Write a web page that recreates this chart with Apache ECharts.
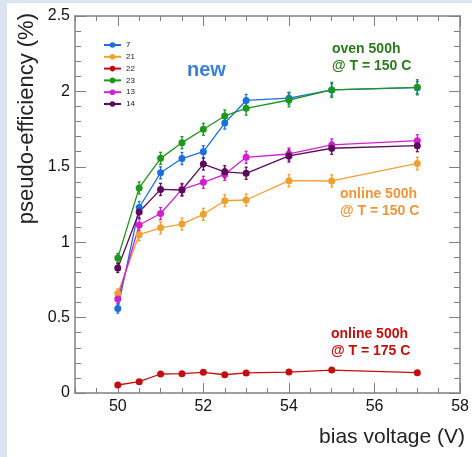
<!DOCTYPE html>
<html>
<head>
<meta charset="utf-8">
<script src="https://cdn.jsdelivr.net/npm/echarts@6/dist/echarts.min.js"></script>
<style>
html,body{margin:0;padding:0;background:#fff;}
#chart{width:472px;height:457px;}
</style>
</head>
<body>
<div id="chart"></div>
<script>
// bias voltage (V)
const voltages = [50, 50.5, 51, 51.5, 52, 52.5, 53, 54, 55, 57];
// pseudo-efficiency (%) per sample
const eff7  = [0.56, 1.23, 1.46, 1.555, 1.60, 1.79, 1.94, 1.955, 2.01, 2.025];
const eff21 = [0.66, 1.05, 1.095, 1.12, 1.185, 1.275, 1.28, 1.408, 1.406, 1.522];
const eff22 = [0.053, 0.075, 0.126, 0.128, 0.137, 0.121, 0.133, 0.139, 0.152, 0.135];
const eff23 = [0.895, 1.36, 1.556, 1.66, 1.749, 1.837, 1.888, 1.943, 2.01, 2.027];
const eff13 = [0.623, 1.114, 1.19, 1.35, 1.397, 1.45, 1.563, 1.585, 1.645, 1.673];
const eff14 = [0.829, 1.20, 1.35, 1.346, 1.518, 1.467, 1.457, 1.572, 1.623, 1.64];
// errors
const err7  = [0.03, 0.04, 0.04, 0.04, 0.04, 0.04, 0.04, 0.04, 0.04, 0.04];
const err21 = [0.03, 0.04, 0.04, 0.04, 0.04, 0.04, 0.04, 0.04, 0.04, 0.042];
const err22 = [0, 0, 0, 0, 0, 0, 0, 0, 0, 0];
const err23 = [0.03, 0.04, 0.04, 0.04, 0.04, 0.04, 0.045, 0.045, 0.05, 0.05];
const err13 = [0.03, 0.04, 0.04, 0.04, 0.04, 0.04, 0.04, 0.04, 0.04, 0.04];
const err14 = [0.03, 0.04, 0.04, 0.04, 0.04, 0.04, 0.04, 0.04, 0.04, 0.04];
const seriesNames = ['7', '21', '22', '23', '13', '14'];
const xMajorTicks = [50, 52, 54, 56, 58];

const values = [eff7, eff21, eff22, eff23, eff13, eff14];
const errors = [err7, err21, err22, err23, err13, err14];
const colors = ['#1e6fdc', '#f0a030', '#c40e0e', '#1f961e', '#d21fd2', '#5c0b5c'];

const AX = '#808080';
const FONT = '"Liberation Sans", Arial, Helvetica, sans-serif';

const chart = echarts.init(document.getElementById('chart'));

const series = [];
values.forEach((vals, i) => {
  series.push({
    name: seriesNames[i] + '_err',
    type: 'custom',
    xAxisIndex: 0, yAxisIndex: 0,
    silent: true,
    data: voltages.map((v, j) => [v, vals[j], errors[i][j]]),
    encode: { x: 0, y: 1 },
    renderItem: function (params, api) {
      const x = api.value(0), y = api.value(1), e = api.value(2);
      if (!e) return null;
      const p1 = api.coord([x, y - e]);
      const p2 = api.coord([x, y + e]);
      const st = { stroke: colors[i], lineWidth: 1.3 };
      return {
        type: 'group',
        children: [
          { type: 'line', shape: { x1: p1[0], y1: p1[1], x2: p2[0], y2: p2[1] }, style: st },
          { type: 'line', shape: { x1: p1[0] - 1.5, y1: p1[1], x2: p1[0] + 1.5, y2: p1[1] }, style: st },
          { type: 'line', shape: { x1: p2[0] - 1.5, y1: p2[1], x2: p2[0] + 1.5, y2: p2[1] }, style: st }
        ]
      };
    },
    z: 2
  });
});
values.forEach((vals, i) => {
  series.push({
    name: seriesNames[i],
    type: 'line',
    xAxisIndex: 0, yAxisIndex: 0,
    data: voltages.map((v, j) => [v, vals[j]]),
    symbol: 'circle',
    symbolSize: 7,
    showSymbol: true,
    lineStyle: { color: colors[i], width: 1.3 },
    itemStyle: { color: colors[i] },
    emphasis: { disabled: true },
    z: 3
  });
});

const tickLabelStyle = { color: '#111', fontSize: 16, fontFamily: FONT };

const option = {
  animation: false,
  backgroundColor: '#ffffff',
  textStyle: { fontFamily: FONT },
  grid: { left: 75, right: 7, top: 16, bottom: 64, containLabel: false },
  legend: {
    data: seriesNames,
    orient: 'vertical',
    left: 103,
    top: 41,
    padding: 0,
    itemWidth: 17,
    itemHeight: 7,
    itemGap: 3.8,
    textStyle: { fontSize: 8, color: '#222', fontFamily: FONT },
    selectedMode: false
  },
  xAxis: [
    {
      type: 'value', min: 49, max: 58, position: 'bottom',
      axisLine: { show: true, lineStyle: { color: AX, width: 1.5 } },
      axisTick: { show: true, inside: true, length: 10, customValues: xMajorTicks, lineStyle: { color: AX, width: 1 } },
      axisLabel: Object.assign({ margin: 6, customValues: xMajorTicks }, tickLabelStyle),
      splitLine: { show: false }
    },
    {
      type: 'value', min: 49, max: 58, interval: 0.5, position: 'bottom',
      axisLine: { show: false },
      axisTick: { show: true, inside: true, length: 5, lineStyle: { color: AX, width: 1 } },
      axisLabel: { show: false },
      splitLine: { show: false }
    },
    {
      type: 'value', min: 49, max: 58, position: 'top',
      axisLine: { show: true, lineStyle: { color: AX, width: 1.5 } },
      axisTick: { show: true, inside: true, length: 10, customValues: xMajorTicks, lineStyle: { color: AX, width: 1 } },
      axisLabel: { show: false },
      splitLine: { show: false }
    },
    {
      type: 'value', min: 49, max: 58, interval: 0.5, position: 'top',
      axisLine: { show: false },
      axisTick: { show: true, inside: true, length: 5, lineStyle: { color: AX, width: 1 } },
      axisLabel: { show: false },
      splitLine: { show: false }
    }
  ],
  yAxis: [
    {
      type: 'value', min: 0, max: 2.5, interval: 0.5, position: 'left',
      axisLine: { show: true, lineStyle: { color: AX, width: 1.5 } },
      axisTick: { show: true, inside: true, length: 11, lineStyle: { color: AX, width: 1 } },
      minorTick: { show: true, splitNumber: 5, length: 6, lineStyle: { color: AX, width: 1 } },
      axisLabel: Object.assign({ margin: 5 }, tickLabelStyle),
      splitLine: { show: false }
    },
    {
      type: 'value', min: 0, max: 2.5, interval: 0.5, position: 'right',
      axisLine: { show: true, lineStyle: { color: AX, width: 1.5 } },
      axisTick: { show: true, inside: true, length: 11, lineStyle: { color: AX, width: 1 } },
      minorTick: { show: true, splitNumber: 5, length: 6, lineStyle: { color: AX, width: 1 } },
      axisLabel: { show: false },
      splitLine: { show: false }
    }
  ],
  graphic: [
    { type: 'rect', left: 0, top: 0, shape: { width: 472, height: 3 }, style: { fill: '#dbe4f0' }, z: 100 },
    { type: 'rect', left: 0, top: 0, shape: { width: 7, height: 457 }, style: { fill: '#dbe4f0' }, z: 100 },
    {
      type: 'text', x: 27, y: 13, rotation: Math.PI / 2,
      style: { text: 'pseudo-efficiency (%)', fill: '#222', font: '22px ' + FONT, textAlign: 'right', textVerticalAlign: 'middle' }
    },
    {
      type: 'text', x: 465, y: 437,
      style: { text: 'bias voltage (V)', fill: '#222', font: '21px ' + FONT, textAlign: 'right', textVerticalAlign: 'middle' }
    },
    {
      type: 'text', x: 187, y: 70,
      style: { text: 'new', fill: '#3a7fdc', font: 'bold 20px ' + FONT, textAlign: 'left', textVerticalAlign: 'middle' }
    },
    {
      type: 'text', x: 332, y: 58,
      style: { text: 'oven 500h\n@ T = 150 C', fill: '#2a7a1c', font: 'bold 14px ' + FONT, lineHeight: 17, textAlign: 'left', textVerticalAlign: 'middle' }
    },
    {
      type: 'text', x: 340, y: 203,
      style: { text: 'online 500h\n@ T = 150 C', fill: '#f0963a', font: 'bold 14px ' + FONT, lineHeight: 17, textAlign: 'left', textVerticalAlign: 'middle' }
    },
    {
      type: 'text', x: 331, y: 343,
      style: { text: 'online 500h\n@ T = 175 C', fill: '#c40e0e', font: 'bold 14px ' + FONT, lineHeight: 17, textAlign: 'left', textVerticalAlign: 'middle' }
    }
  ],
  series: series
};
chart.setOption(option);
</script>
</body>
</html>
